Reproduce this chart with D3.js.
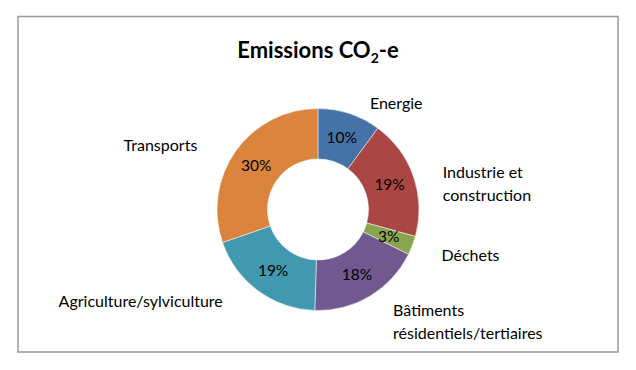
<!DOCTYPE html>
<html>
<head>
<meta charset="utf-8">
<script src="https://cdn.jsdelivr.net/npm/d3@7"></script>
<style>
  body { margin: 0; background: #fff; }
  svg text { font-family: Lato, "Open Sans", sans-serif; fill: #000; }
</style>
</head>
<body>
<div id="chart"></div>
<script>
// chart data
var categories = [
    ["Energie"],
    ["Industrie et", "construction"],
    ["Déchets"],
    ["Bâtiments", "résidentiels/tertiaires"],
    ["Agriculture/sylviculture"],
    ["Transports"]
];
var values = [10, 19, 3, 18, 19, 30];
var colors = ["#4572A7", "#AA4643", "#89A54E", "#71588F", "#4198AF", "#DB843D"];

var width = 636, height = 370;
var cx = 318, cy = 209.5;
var outerR = 101, innerR = 50.5;

var svg = d3.select("#chart")
    .append("svg")
    .attr("width", width)
    .attr("height", height);

// frame
svg.append("rect")
    .attr("x", 18)
    .attr("y", 16.5)
    .attr("width", 600)
    .attr("height", 335.5)
    .attr("fill", "#fff")
    .attr("stroke", "#999")
    .attr("stroke-width", 1.5);

// title with subscript
var title = svg.append("text")
    .attr("x", cx)
    .attr("y", 57.5)
    .attr("text-anchor", "middle")
    .style("font-size", "22px")
    .style("font-weight", "bold");
title.append("tspan").text("Emissions CO");
title.append("tspan").attr("dy", 5).style("font-size", "14px").text("2");
title.append("tspan").attr("dy", -5).text("-e");

var pie = d3.pie().sort(null).value(function(d) { return d; });
var arcs = pie(values);

var arc = d3.arc().innerRadius(innerR).outerRadius(outerR);
var labelArc = d3.arc().innerRadius(115).outerRadius(115);

var g = svg.append("g")
    .attr("transform", "translate(" + cx + "," + cy + ")");

g.selectAll("path")
    .data(arcs)
    .enter()
    .append("path")
    .attr("d", arc)
    .attr("fill", function(d, i) { return colors[i]; })
    .attr("stroke", "#fff")
    .attr("stroke-width", 0.5);

// percentages inside the ring
g.selectAll(".pct")
    .data(arcs)
    .enter()
    .append("text")
    .attr("class", "pct")
    .attr("x", function(d) { return arc.centroid(d)[0]; })
    .attr("y", function(d) { return arc.centroid(d)[1]; })
    .attr("dy", "0.35em")
    .attr("text-anchor", "middle")
    .style("font-size", "15.5px")
    .text(function(d) { return d.data + "%"; });

// category labels outside
g.selectAll(".lbl")
    .data(arcs)
    .enter()
    .append("text")
    .attr("class", "lbl")
    .style("font-size", "16px")
    .each(function(d, i) {
        var p = labelArc.centroid(d);
        var mid = (d.startAngle + d.endAngle) / 2;
        var right = mid < Math.PI;
        var lines = categories[i];
        var x = right ? p[0] + 16 : p[0] - 27;
        // labels below the centre sit a bit lower on the right, higher on the left
        var y0 = p[1] + 3 - (lines.length - 1) * 3 + (right ? 2 : -4) * (p[1] > 0 ? 1 : 0);
        var t = d3.select(this)
            .attr("text-anchor", right ? "start" : "end");
        lines.forEach(function(line, k) {
            t.append("tspan")
                .attr("x", x)
                .attr("y", y0 + k * 23)
                .attr("dy", "0.35em")
                .text(line);
        });
    });
</script>
</body>
</html>
